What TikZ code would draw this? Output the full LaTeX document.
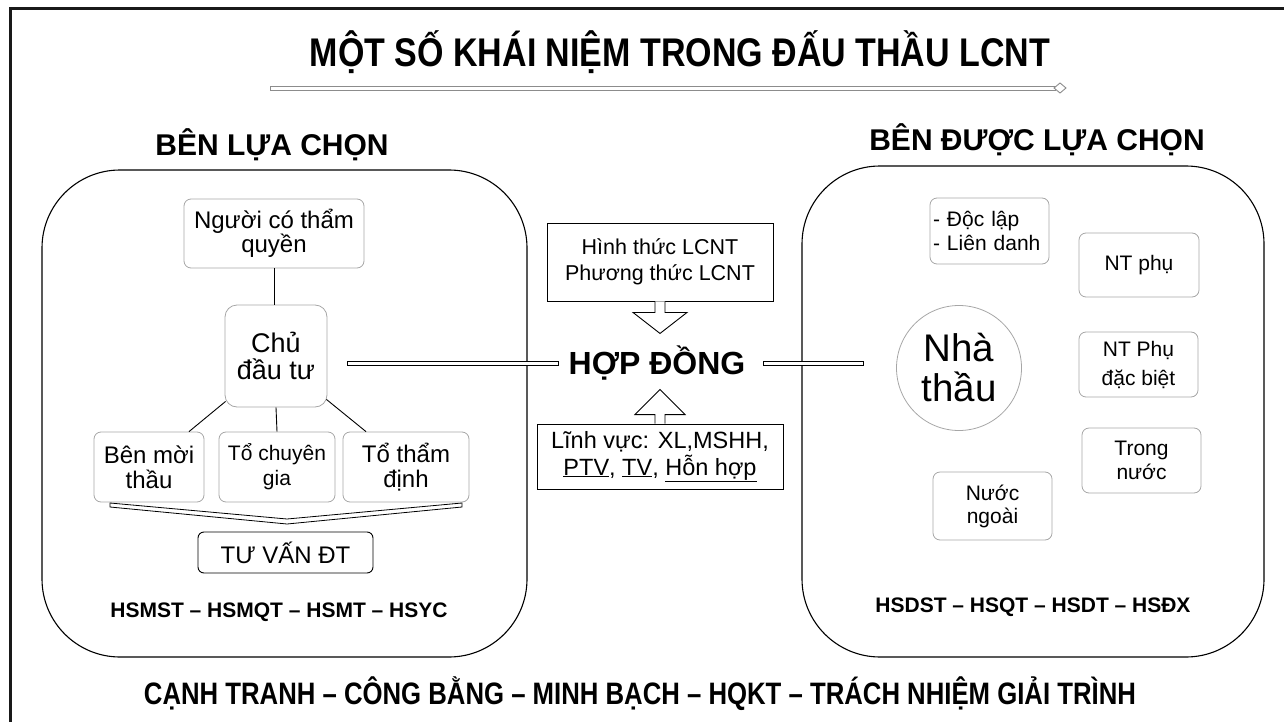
\documentclass[tikz,border=0pt]{standalone}
\usepackage{fontspec}
\setmainfont{Liberation Sans}
\newfontfamily\titlefont[FakeStretch=0.85]{Liberation Sans Bold}
\newfontfamily\footfont[FakeStretch=0.83]{Liberation Sans Bold}
\usetikzlibrary{calc}
\newcommand{\fs}[2]{\fontsize{#1}{#2}\selectfont}
\begin{document}
\begin{tikzpicture}[x=1pt,y=-1pt,
  soft/.style={draw=black!35, line width=0.8pt, rounded corners=7pt, align=center, inner sep=0pt},
  bigbox/.style={draw=black, line width=1.1pt, rounded corners=78pt},
  sharp/.style={draw=black, line width=0.9pt, align=center, inner sep=0pt},
  conn/.style={draw=black, line width=0.9pt},
  hollow/.style={draw=black, line width=0.9pt, fill=white},
  dbl/.style={draw=black, line width=0.8pt, fill=white},
  headtxt/.style={font=\bfseries\fs{30}{32}, inner sep=0pt},
  hstxt/.style={font=\bfseries\fs{21}{22}, inner sep=0pt}]
\useasboundingbox (0,0) rectangle (1284,722);
% frame
\draw[line width=3pt, black!90] (10,722) -- (10,9) -- (1284,9);
% title
\node[font=\titlefont\fs{40}{40}, inner sep=0pt] (title) at (680,52) {MỘT SỐ KHÁI NIỆM TRONG ĐẤU THẦU LCNT};
\draw[draw=black!45, line width=0.8pt, fill=white] (270,86) rectangle (1055,90);
\draw[draw=black!45, line width=0.9pt, fill=white] (1054,88) -- (1060,83) -- (1066,88) -- (1060,93) -- cycle;
% headings
\node[headtxt] (hl) at (272,145) {BÊN LỰA CHỌN};
\node[headtxt] (hr) at (1037,140) {BÊN ĐƯỢC LỰA CHỌN};
% big boxes
\draw[bigbox] (42,170) rectangle (527,657);
\draw[bigbox] (802,166) rectangle (1264,657);
% left side
\node[soft, minimum width=180pt, minimum height=69pt, font=\fs{24}{24.5}] (nguoi) at (274,233.5) {Người có thẩm\\quyền};
\node[soft, rounded corners=12pt, minimum width=102pt, minimum height=102pt, font=\fs{27}{27}] (chu) at (276,356) {Chủ\\đầu tư};
\node[soft, minimum width=110pt, minimum height=70pt, font=\fs{24}{25}] (benmoi) at (149,467) {Bên mời\\thầu};
\node[soft, minimum width=116pt, minimum height=70pt, font=\fs{21}{25}] (tochuyen) at (277,467) {Tổ chuyên\\gia};
\node[soft, minimum width=126pt, minimum height=70pt, font=\fs{24}{25}] (tothamdinh) at (406,467) {Tổ thẩm\\định};
\draw[conn] (nguoi.south) -- (chu.north -| nguoi.south);
\draw[conn] ($(chu.south west)+(1,-6)$) -- ($(benmoi.north)+(40,0)$);
\draw[conn] (chu.south) -- (tochuyen.north);
\draw[conn] ($(chu.south east)+(-1,-8)$) -- ($(tothamdinh.north)+(-40,0)$);
\coordinate (vl) at (110,503);
\coordinate (vm) at (287,519);
\coordinate (vr) at (462,503);
\draw[hollow, line width=0.8pt] (vl) -- (vm) -- (vr) -- ($(vr)+(0,4)$) -- ($(vm)+(0,5)$) -- ($(vl)+(0,4)$) -- cycle;
\node[draw=black, line width=0.9pt, rounded corners=6pt, minimum width=175pt, minimum height=41pt, inner sep=0pt, font=\fs{24}{25}] (tuvan) at (285.5,552.5) {TƯ VẤN ĐT};
\node[hstxt] (hsl) at (279,612) {HSMST – HSMQT – HSMT – HSYC};
% middle
\node[sharp, minimum width=226pt, minimum height=78pt, font=\fs{21.5}{26}] (hinhthuc) at (660,262) {Hình thức LCNT\\Phương thức LCNT};
\node[font=\bfseries\fs{32}{32}, inner sep=0pt] (hop) at (657,363) {HỢP ĐỒNG};
\node[sharp, minimum width=246pt, minimum height=65pt, font=\fs{23.5}{27}] (linhvuc) at (660,456.5) {Lĩnh vực: XL,MSHH,\\\underline{PTV}, \underline{TV}, \underline{Hỗn hợp}};
\draw[hollow] (hinhthuc.south) ++(-5,0) -- ++(0,11) -- ++(-22,0) -- ++(27,21) -- ++(27,-21) -- ++(-22,0) -- ++(0,-11);
\draw[hollow] (linhvuc.north) ++(-5,0) -- ++(0,-9) -- ++(-20,0) -- ++(25,-25) -- ++(25,25) -- ++(-20,0) -- ++(0,9);
% right side
\node[soft, minimum width=119pt, minimum height=66pt, font=\fs{21}{23.5}, align=left, text width=113pt] (doclap) at (989.5,231) {- Độc lập\\- Liên danh};
\node[soft, minimum width=120pt, minimum height=64pt, font=\fs{21}{24}] (ntphu) at (1139,265) {NT phụ};
\node[circle, draw=black!35, line width=0.8pt, minimum size=125pt, inner sep=0pt, align=center, font=\fs{38.5}{40}] (nhathau) at (959,368) {Nhà\\thầu};
\node[soft, minimum width=119pt, minimum height=65pt, font=\fs{21}{29}] (ntphudb) at (1138.5,364.5) {NT Phụ\\đặc biệt};
\node[soft, minimum width=119pt, minimum height=65pt, font=\fs{21}{24}] (trongnuoc) at (1141.5,460.5) {Trong\\nước};
\node[soft, minimum width=119pt, minimum height=68pt, font=\fs{21}{23}] (nuocngoai) at (992.5,506) {Nước\\ngoài};
\node[hstxt] (hsr) at (1033,607) {HSDST – HSQT – HSDT – HSĐX};
% double connectors
\draw[dbl] ($(chu.east |- hop.west)+(20,-2)$) rectangle ($(hop.west)+(-10,2)$);
\draw[dbl] ($(hop.east)+(18,-2)$) rectangle ($(nhathau.west |- hop.east)+(-33,2)$);
% footer
\node[font=\footfont\fs{31}{31}, inner sep=0pt] (foot) at (640,694) {CẠNH TRANH – CÔNG BẰNG – MINH BẠCH – HQKT – TRÁCH NHIỆM GIẢI TRÌNH};
\end{tikzpicture}
\end{document}
